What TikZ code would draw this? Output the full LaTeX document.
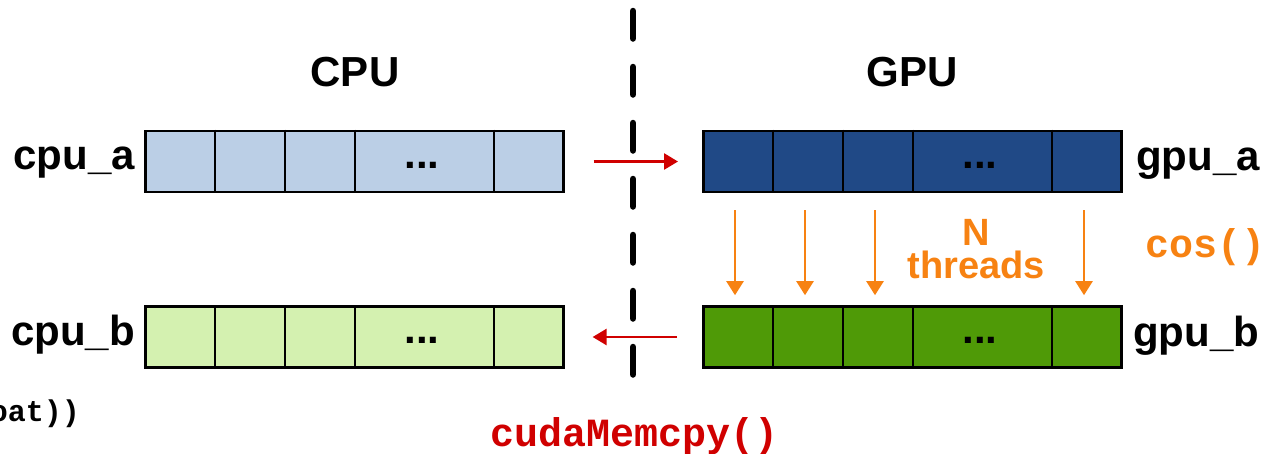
\documentclass[tikz,border=0pt]{standalone}
\usepackage{fontspec}
\setmainfont{Liberation Sans}
\setmonofont{Liberation Mono}
\usetikzlibrary{arrows.meta}

\definecolor{cpuA}{RGB}{187,207,230}
\definecolor{cpuB}{RGB}{212,241,176}
\definecolor{gpuA}{RGB}{32,73,134}
\definecolor{gpuB}{RGB}{79,154,7}
\definecolor{copyred}{RGB}{208,0,0}
\definecolor{threadorange}{RGB}{247,130,18}

\tikzset{
  memarray/.style={draw=black, line width=2.6pt, rectangle, inner sep=0pt,
                   minimum width=418pt, minimum height=61pt, anchor=west},
  cellline/.style={draw=black, line width=1.6pt},
  dots/.style={font=\fontsize{42}{42}\selectfont\bfseries, anchor=base, inner sep=0pt},
  biglabel/.style={font=\fontsize{42}{42}\selectfont\bfseries, inner sep=0pt},
  codelabel/.style={font=\fontsize{40}{40}\selectfont\ttfamily\bfseries, inner sep=0pt},
  copyarrow/.style={draw=copyred, line width=2.6pt,
                    -{Triangle[length=14pt,width=16pt]}},
  threadarrow/.style={draw=threadorange, line width=2.4pt,
                      -{Triangle[length=14pt,width=17pt]}},
  divider/.style={draw=black, line width=6.5pt, line cap=round,
                  dash pattern=on 27.5pt off 28.5pt},
}

% one memory array: name, left x, centre y, fill colour
\newcommand\memarr[4]{%
  \node[memarray, fill=#4] (#1) at (#2,#3) {};
  \foreach \dx in {71,141,211,350}
    \draw[cellline] ([xshift=\dx pt]#1.north west) -- ([xshift=\dx pt]#1.south west);
  \node[dots] (#1dots) at ([xshift=278pt,yshift=-6.5pt]#1.west) {...};
}

\begin{document}
\begin{tikzpicture}[x=1pt,y=-1pt]
  \useasboundingbox (0,0) rectangle (1264,453);
  \begin{scope}
  \clip (0,0) rectangle (1264,453);

  % host / device separator
  \coordinate (divtop) at (633,11);
  \coordinate (divbot) at (633,375);
  \draw[divider] (divtop) -- (divbot);

  % headings
  \node[biglabel] (cpuhead) at (355,72) {CPU};
  \node[biglabel] (gpuhead) at (912,72) {GPU};

  % arrays
  \memarr{cpua}{144}{161.5}{cpuA}
  \memarr{cpub}{144}{337}{cpuB}
  \memarr{gpua}{702}{161.5}{gpuA}
  \memarr{gpub}{702}{337}{gpuB}

  % array names
  \node[biglabel, anchor=base east] (cpualab) at (135,169) {cpu\_a};
  \node[biglabel, anchor=base east] (cpublab) at (135,345) {cpu\_b};
  \node[biglabel, anchor=base west] (gpualab) at (1136,170) {gpu\_a};
  \node[biglabel, anchor=base west] (gpublab) at (1133,346) {gpu\_b};

  % copies between host and device
  \draw[copyarrow, shorten <=29pt, shorten >=24pt] (cpua.east) -- (gpua.west);
  \draw[copyarrow, shorten <=25pt, shorten >=28pt] (gpub.west) -- (cpub.east);

  % one thread per element
  \foreach \dx in {33,103,173,382}
    \draw[threadarrow, shorten <=17pt, shorten >=10pt]
      ([xshift=\dx pt]gpua.south west) -- ([xshift=\dx pt]gpub.north west);

  \node[font=\fontsize{38}{33}\selectfont\bfseries, text=threadorange,
        align=center, inner sep=0pt, anchor=base] (nthreads) at (976,278)
        {N\\threads};
  \node[codelabel, text=threadorange, anchor=base west] (coslab) at (1145,257) {cos()};

  \node[codelabel, text=copyred, anchor=base] (memcpylab) at (635,446) {cudaMemcpy()};

  % tail of a code line running in from the left
  \node[font=\fontsize{30}{30}\selectfont\ttfamily\bfseries, inner sep=0pt,
        anchor=base east] (codetail) at (80,421) {oat))};
  \end{scope}
\end{tikzpicture}
\end{document}
